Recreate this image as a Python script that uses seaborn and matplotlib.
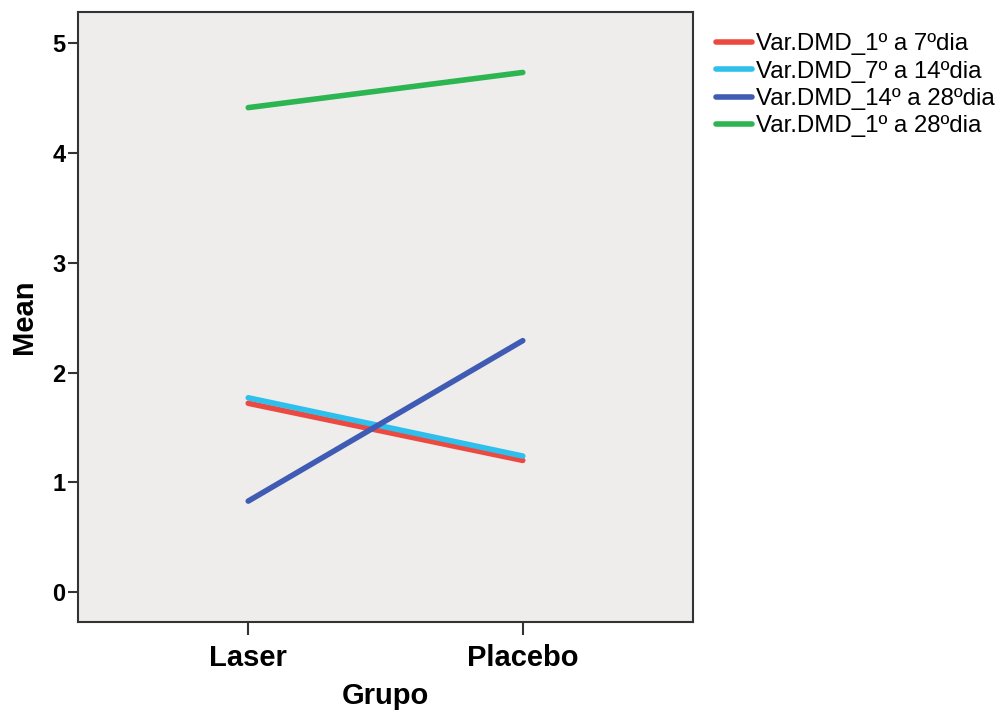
import pandas as pd
import matplotlib.pyplot as plt
import seaborn as sns

# Datos
grupos = ['Laser', 'Placebo']
series = ['Var.DMD_1º a 7ºdia', 'Var.DMD_7º a 14ºdia',
          'Var.DMD_14º a 28ºdia', 'Var.DMD_1º a 28ºdia']
var_1_7 = [1.72, 1.20]
var_7_14 = [1.77, 1.24]
var_14_28 = [0.83, 2.29]
var_1_28 = [4.41, 4.73]
colores = ['#EC4A40', '#2EBFEC', '#3F5BB3', '#2DB551']

valores = [var_1_7, var_7_14, var_14_28, var_1_28]
filas = []
for nombre, vals in zip(series, valores):
    for g, v in zip(grupos, vals):
        filas.append({'Grupo': g, 'Mean': v, 'Serie': nombre})
df = pd.DataFrame(filas)
df['pos'] = df['Grupo'].map({g: i for i, g in enumerate(grupos)})

sns.set_style('ticks')
plt.rcParams['font.family'] = ['Liberation Sans', 'DejaVu Sans']
plt.rcParams['text.color'] = 'black'
plt.rcParams['axes.labelcolor'] = 'black'
plt.rcParams['xtick.color'] = 'black'
plt.rcParams['ytick.color'] = 'black'

fig = plt.figure(figsize=(10.05, 7.15), dpi=100)
ax = fig.add_axes([78 / 1005, 1 - 622 / 715, 615 / 1005, 610 / 715])
ax.set_facecolor('#EEEDEC')

sns.lineplot(data=df, x='pos', y='Mean', hue='Serie', hue_order=series,
             palette=colores, linewidth=4, ax=ax)

ax.set_xlim(-0.62, 1.62)
ax.set_ylim(-0.27, 5.28)
ax.set_xticks(range(len(grupos)))
ax.set_xticklabels(grupos, fontsize=21, fontweight='bold')
ax.set_yticks(range(6))
ax.set_yticklabels([str(i) for i in range(6)], fontsize=17, fontweight='bold')
ax.tick_params(axis='y', length=7, width=1.5, color='#333333', pad=2)
ax.tick_params(axis='x', length=9, width=1.5, color='#333333', pad=7)
ax.set_xlabel('Grupo', fontsize=21, fontweight='bold', labelpad=7)
ax.set_ylabel('Mean', fontsize=21, fontweight='bold', labelpad=10)
for s in ax.spines.values():
    s.set_linewidth(1.5)
    s.set_color('#333333')

leg = ax.legend(loc='upper left', bbox_to_anchor=(1.037, 0.965), frameon=False,
                fontsize=17.3, handlelength=1.5, handletextpad=0.17,
                labelspacing=0.22, borderaxespad=0, borderpad=0)
for l in leg.get_lines():
    l.set_linewidth(4)

plt.savefig('out.png', dpi=100)
